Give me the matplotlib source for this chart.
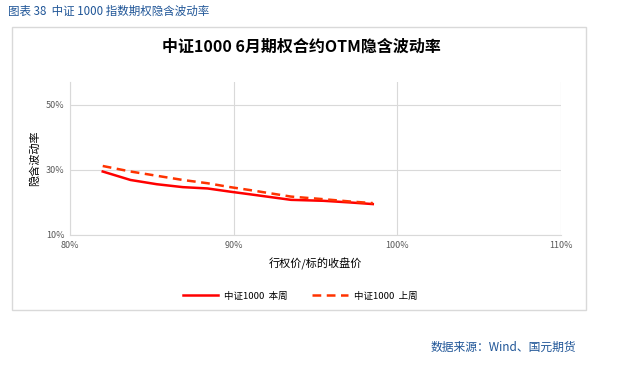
import numpy as np
import matplotlib.pyplot as plt
from matplotlib.patches import Rectangle
from matplotlib.ticker import FuncFormatter

plt.rcParams['font.family'] = ['Noto Sans CJK SC', 'DejaVu Sans']

strike = [82.0, 83.7, 85.3, 86.9, 88.4, 89.8, 91.0, 93.5, 95.5, 97.1, 98.5]
iv_this_week = [29.5, 26.9, 25.6, 24.7, 24.3, 23.3, 22.5, 20.8, 20.5, 20.0, 19.5]
iv_last_week = [31.2, 29.5, 28.2, 26.9, 25.9, 24.7, 23.8, 21.8, 21.0, 20.3, 19.8]
x_ticks = [80, 90, 100, 110]
y_ticks = [10, 30, 50]

W, H = 617, 381
fig = plt.figure(figsize=(W / 100, H / 100), dpi=100)

# outer chart frame
fig.patches.append(Rectangle((12 / W, 1 - 310 / H), 574 / W, 283 / H,
                             transform=fig.transFigure, fill=False,
                             edgecolor='#d9d9d9', linewidth=1))

ax = fig.add_axes([70 / W, 1 - 235 / H, 491 / W, 153 / H])
ax.plot(strike, iv_this_week, color='#ff0000', lw=1.8, label='中证1000  本周')
ax.plot(strike, iv_last_week, color='#ff3300', lw=1.8, ls=(0, (3.5, 2.2)),
        label='中证1000  上周')

ax.set_xlim(80, 110)
ax.set_ylim(10, 57)
ax.set_xticks(x_ticks)
ax.set_yticks(y_ticks)
pct = FuncFormatter(lambda v, p: f'{v:.0f}%')
ax.xaxis.set_major_formatter(pct)
ax.yaxis.set_major_formatter(pct)
ax.tick_params(length=0, labelsize=6.5, colors='#595959', pad=4)
ax.grid(color='#d9d9d9', lw=0.8)
ax.set_axisbelow(True)
for s in ['top', 'right']:
    ax.spines[s].set_visible(False)
ax.spines['left'].set_color('#d9d9d9')
ax.spines['bottom'].set_color('#d9d9d9')

ax.set_xlabel('行权价/标的收盘价', fontsize=8, labelpad=6)
ax.set_ylabel('隐含波动率', fontsize=8, labelpad=4)

fig.text(301 / W, 1 - 47 / H, '中证1000 6月期权合约OTM隐含波动率',
         ha='center', va='center', fontsize=11.5, fontweight='bold')

fig.legend(loc='center', bbox_to_anchor=(300 / W, 1 - 296 / H), ncol=2,
           frameon=False, fontsize=6.8, handlelength=3.8, handletextpad=0.6,
           columnspacing=2.6)

fig.text(8 / W, 1 - 11 / H, '图表 38  中证 1000 指数期权隐含波动率',
         ha='left', va='center', fontsize=8.3, color='#1f5597')
fig.text(576 / W, 1 - 347 / H, '数据来源：Wind、国元期货',
         ha='right', va='center', fontsize=8.5, color='#1f5597')

fig.savefig('out.png', dpi=100)
